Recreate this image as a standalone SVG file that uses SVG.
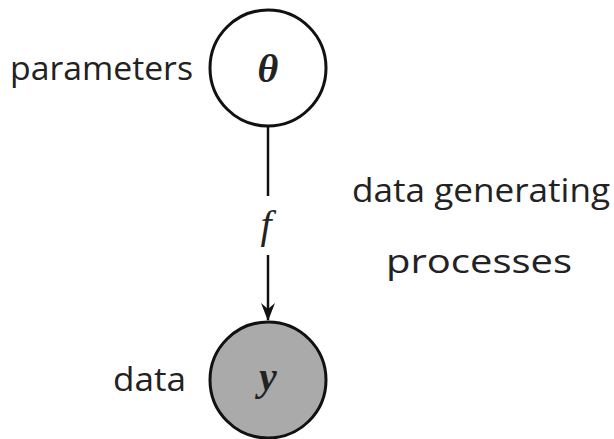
<svg xmlns="http://www.w3.org/2000/svg" width="614" height="439" viewBox="0 0 614 439">
<style>
.lbl{font-family:"Open Sans","DejaVu Sans",sans-serif;font-size:32px;fill:#222}
.math{font-family:"Liberation Serif","DejaVu Serif",serif;font-style:italic;font-size:40px;fill:#222}
.node{stroke:#111;stroke-width:3}
</style>
<defs>
<marker id="arr" markerWidth="18" markerHeight="14" refX="17" refY="7" orient="auto" markerUnits="userSpaceOnUse" viewBox="0 0 18 14">
<path d="M0,0 L18,7 L0,14 L6,7 Z" fill="#111"/>
</marker>
</defs>
<rect width="614" height="439" fill="#fff"/>
<g id="theta">
<circle class="node" cx="268" cy="68" r="58" fill="#fff"/>
<text class="math" x="268" y="82" text-anchor="middle" font-weight="bold">θ</text>
</g>
<g id="y">
<circle class="node" cx="268" cy="380" r="58" fill="#aaa"/>
<text class="math" x="268" y="390" text-anchor="middle" font-weight="bold">y</text>
</g>
<g id="connectors">
<line x1="268" y1="127" x2="268" y2="196" stroke="#111" stroke-width="2.5"/>
<line x1="268" y1="255" x2="268" y2="320" stroke="#111" stroke-width="2.5" marker-end="url(#arr)"/>
<text class="math" x="266" y="238" text-anchor="middle" font-size="34">f</text>
</g>
<g id="labels">
<text class="lbl" x="10" y="80" textLength="183" lengthAdjust="spacingAndGlyphs">parameters</text>
<text class="lbl" x="352" y="202" textLength="258" lengthAdjust="spacingAndGlyphs">data generating</text>
<text class="lbl" x="386" y="273" textLength="186" lengthAdjust="spacingAndGlyphs">processes</text>
<text class="lbl" x="113" y="391" textLength="73" lengthAdjust="spacingAndGlyphs">data</text>
</g>
</svg>
